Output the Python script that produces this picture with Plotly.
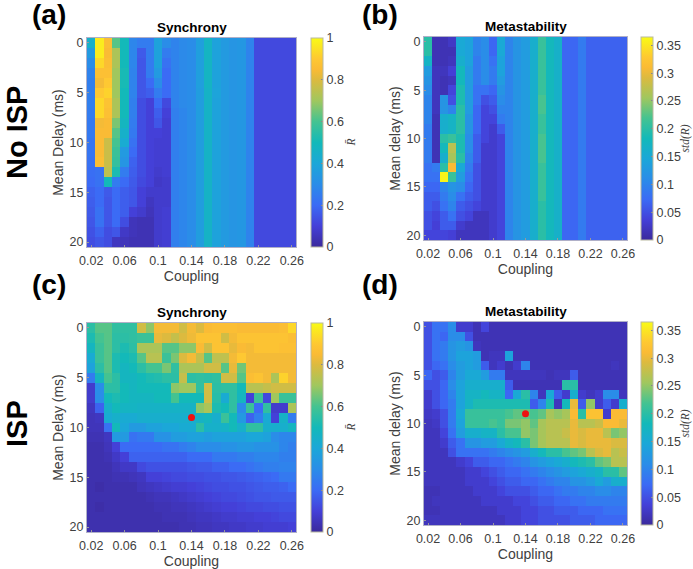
import numpy as np
import plotly.graph_objects as go

W, H = 693, 569
coupling = [round(0.02 + 0.01 * i, 2) for i in range(25)]
delay = list(range(21))
x_ticks = [0.02, 0.06, 0.1, 0.14, 0.18, 0.22, 0.26]
x_labels = ["0.02", "0.06", "0.1", "0.14", "0.18", "0.22", "0.26"]
y_ticks = [0, 5, 10, 15, 20]
sync_ticks = [0, 0.2, 0.4, 0.6, 0.8, 1]
sync_labels = ["0", "0.2", "0.4", "0.6", "0.8", "1"]
meta_ticks = [0, 0.05, 0.1, 0.15, 0.2, 0.25, 0.3, 0.35]
meta_labels = ["0", "0.05", "0.1", "0.15", "0.2", "0.25", "0.3", "0.35"]
operating_point = (0.14, 9)

# Panel (a): one list per coupling column, top to bottom (delay 0..20)
a_cols = [
 [.45,.35,.3,.27,.26,.26,.26,.25,.24,.24,.23,.23,.22,.21,.2,.18,.17,.16,.15,.14,.13],
 [.97,.97,.93,.87,.84,.9,.93,.93,.84,.85,.85,.85,.86,.22,.22,.2,.2,.22,.22,.18,.15],
 [.86,.85,.86,.87,.9,.92,.88,.87,.85,.85,.77,.77,.77,.75,.5,.16,.15,.15,.15,.13,.13],
 [.62,.72,.72,.7,.7,.7,.72,.72,.66,.62,.6,.58,.57,.52,.25,.2,.2,.2,.2,.15,.06],
 [.5,.5,.5,.51,.51,.5,.5,.5,.48,.45,.42,.35,.33,.25,.2,.17,.17,.17,.13,.07,.05],
 [.28,.28,.28,.27,.27,.27,.26,.26,.25,.24,.22,.2,.18,.17,.16,.15,.15,.1,.05,.05,.04],
 [.25,.16,.15,.15,.15,.15,.13,.13,.13,.13,.13,.13,.13,.13,.12,.1,.1,.08,.04,.04,.04],
 [.25,.25,.25,.25,.2,.17,.1,.1,.1,.1,.1,.1,.1,.1,.1,.08,.06,.05,.04,.04,.04],
 [.38,.38,.38,.35,.3,.25,.2,.17,.15,.1,.09,.09,.09,.08,.07,.08,.08,.08,.08,.08,.08],
 [.3,.25,.22,.2,.2,.2,.12,.1,.09,.09,.09,.09,.09,.09,.08,.08,.08,.09,.09,.09,.09],
 [.27,.27,.27,.27,.27,.27,.27,.26,.26,.26,.26,.26,.26,.26,.26,.26,.26,.26,.26,.26,.26],
 [.29,.29,.29,.29,.29,.29,.29,.28,.28,.28,.28,.28,.28,.28,.28,.28,.28,.28,.28,.28,.28],
 [.3,.3,.3,.3,.3,.3,.3,.3,.3,.3,.3,.3,.3,.3,.3,.3,.3,.3,.3,.3,.3],
 [.37,.37,.37,.37,.37,.36,.36,.36,.36,.36,.36,.36,.36,.36,.36,.36,.36,.36,.36,.36,.36],
 [.47,.47,.47,.47,.47,.46,.46,.46,.46,.46,.46,.46,.46,.46,.46,.46,.46,.46,.46,.46,.46],
 [.38,.38,.38,.38,.38,.39,.38,.38,.38,.38,.38,.38,.38,.38,.38,.38,.38,.38,.38,.38,.38],
 [.35,.35,.35,.35,.35,.35,.35,.35,.35,.35,.35,.35,.35,.35,.35,.35,.35,.35,.35,.35,.35],
 [.33,.33,.33,.33,.33,.33,.33,.33,.33,.33,.33,.33,.33,.33,.33,.33,.33,.33,.33,.33,.33],
 [.34,.34,.34,.34,.34,.34,.34,.34,.34,.34,.34,.34,.34,.34,.34,.34,.34,.34,.34,.34,.34],
 [.27,.27,.27,.27,.27,.27,.27,.27,.27,.27,.27,.27,.27,.27,.27,.27,.27,.27,.27,.27,.27],
 [.12,.12,.12,.12,.12,.12,.12,.12,.12,.12,.12,.12,.12,.12,.12,.12,.12,.12,.12,.12,.12],
 [.12,.12,.12,.12,.12,.12,.12,.12,.12,.12,.12,.12,.12,.12,.12,.12,.12,.12,.12,.12,.12],
 [.12,.12,.12,.12,.12,.12,.12,.12,.12,.12,.12,.12,.12,.12,.12,.12,.12,.12,.12,.12,.12],
 [.12,.12,.12,.12,.12,.12,.12,.12,.12,.12,.12,.12,.12,.12,.12,.12,.12,.12,.12,.12,.12],
 [.12,.12,.12,.12,.12,.12,.12,.12,.12,.12,.12,.12,.12,.12,.12,.12,.12,.12,.12,.12,.12],
]

# Panel (b): one list per coupling column
b_cols = [
 [.2,.2,.17,.13,.12,.11,.1,.1,.1,.09,.09,.09,.09,.08,.08,.07,.06,.06,.05,.05,.04],
 [.015,.015,.015,.02,.02,.02,.02,.02,.015,.015,.015,.015,.015,.09,.08,.07,.06,.05,.04,.035,.04],
 [.015,.015,.015,.02,.015,.015,.12,.12,.16,.16,.2,.18,.16,.2,.36,.1,.09,.08,.06,.06,.04],
 [.025,.015,.02,.035,.02,.04,.05,.1,.17,.17,.21,.27,.26,.31,.21,.12,.11,.1,.08,.06,.035],
 [.15,.15,.16,.18,.18,.19,.19,.2,.2,.2,.19,.19,.2,.15,.13,.11,.08,.06,.05,.03,.02],
 [.14,.14,.14,.13,.13,.13,.13,.13,.12,.12,.11,.11,.1,.09,.08,.07,.06,.05,.04,.02,.02],
 [.1,.1,.09,.09,.09,.08,.08,.07,.07,.07,.06,.06,.06,.05,.05,.05,.05,.04,.02,.02,.02],
 [.11,.11,.11,.11,.11,.08,.05,.04,.04,.04,.04,.03,.03,.03,.03,.03,.03,.03,.02,.02,.02],
 [.07,.07,.08,.09,.09,.07,.06,.05,.04,.03,.03,.03,.03,.03,.03,.03,.03,.03,.03,.03,.03],
 [.15,.15,.14,.14,.13,.12,.11,.1,.09,.06,.04,.04,.04,.04,.04,.04,.04,.04,.04,.04,.04],
 [.1,.1,.1,.1,.1,.1,.1,.1,.1,.1,.1,.1,.1,.1,.1,.1,.1,.1,.1,.1,.1],
 [.12,.12,.12,.12,.12,.12,.12,.12,.12,.12,.12,.12,.12,.12,.12,.12,.12,.12,.12,.12,.12],
 [.13,.13,.13,.13,.13,.13,.13,.13,.13,.13,.13,.13,.13,.13,.13,.13,.13,.13,.13,.13,.13],
 [.16,.16,.16,.16,.16,.16,.16,.16,.16,.16,.16,.16,.16,.16,.16,.16,.16,.16,.16,.16,.16],
 [.21,.21,.21,.21,.21,.21,.22,.22,.21,.21,.22,.22,.22,.21,.21,.21,.21,.2,.2,.2,.2],
 [.18,.18,.18,.18,.18,.18,.18,.18,.18,.18,.18,.18,.18,.18,.18,.18,.18,.18,.18,.18,.18],
 [.165,.165,.165,.165,.165,.165,.165,.165,.165,.165,.165,.165,.165,.165,.165,.165,.165,.165,.165,.165,.165],
 [.07,.07,.07,.07,.07,.07,.07,.07,.07,.07,.07,.07,.07,.07,.07,.07,.07,.07,.07,.07,.07],
 [.07,.07,.07,.07,.07,.07,.07,.07,.07,.07,.07,.07,.07,.07,.07,.07,.07,.07,.07,.07,.07],
 [.09,.09,.09,.09,.09,.09,.09,.09,.09,.09,.09,.09,.09,.09,.09,.09,.09,.09,.09,.09,.09],
 [.065,.065,.065,.065,.065,.065,.065,.065,.065,.065,.065,.065,.065,.065,.065,.065,.065,.065,.065,.065,.065],
 [.065,.065,.065,.065,.065,.065,.065,.065,.065,.065,.065,.065,.065,.065,.065,.065,.065,.065,.065,.065,.065],
 [.065,.065,.065,.065,.065,.065,.065,.065,.065,.065,.065,.065,.065,.065,.065,.065,.065,.065,.065,.065,.065],
 [.065,.065,.065,.065,.065,.065,.065,.065,.065,.065,.065,.065,.065,.065,.065,.065,.065,.065,.065,.065,.065],
 [.065,.065,.065,.065,.065,.065,.065,.065,.065,.065,.065,.065,.065,.065,.065,.065,.065,.065,.065,.065,.065],
]

# Panel (c): one list per delay row
c_rows = [
 [.55,.62,.62,.56,.56,.56,.78,.68,.84,.84,.84,.78,.84,.8,.85,.86,.86,.86,.85,.85,.85,.85,.85,.86,.93],
 [.52,.6,.62,.55,.55,.56,.58,.58,.82,.8,.76,.8,.83,.88,.88,.88,.78,.84,.88,.88,.88,.88,.88,.88,.86],
 [.48,.58,.62,.55,.52,.55,.72,.72,.72,.62,.62,.68,.68,.85,.78,.88,.88,.82,.85,.84,.88,.88,.88,.87,.87],
 [.42,.58,.62,.52,.5,.52,.62,.74,.74,.58,.66,.8,.84,.76,.62,.75,.75,.84,.9,.84,.84,.84,.84,.84,.84],
 [.38,.55,.62,.52,.48,.5,.55,.6,.6,.66,.56,.72,.72,.72,.78,.78,.62,.82,.65,.84,.84,.84,.84,.84,.84],
 [.25,.48,.6,.55,.48,.48,.5,.52,.53,.55,.55,.76,.55,.56,.55,.56,.78,.78,.62,.86,.88,.84,.72,.92,.84],
 [.08,.3,.55,.55,.5,.48,.5,.5,.5,.5,.68,.7,.7,.56,.78,.55,.56,.56,.5,.74,.74,.76,.78,.78,.78],
 [.08,.3,.5,.52,.5,.48,.48,.48,.5,.5,.6,.5,.5,.5,.78,.54,.42,.56,.48,.1,.58,.12,.7,.58,.58],
 [.06,.18,.45,.5,.47,.47,.46,.46,.46,.46,.46,.46,.46,.68,.72,.52,.5,.56,.3,.58,.2,.56,.08,.08,.72],
 [.05,.06,.42,.45,.42,.42,.44,.44,.44,.44,.44,.44,.44,.46,.48,.44,.58,.5,.35,.18,.26,.42,.1,.46,.25],
 [.05,.05,.22,.5,.4,.35,.35,.38,.38,.4,.4,.42,.42,.55,.45,.45,.46,.5,.45,.56,.56,.44,.44,.44,.48],
 [.04,.04,.06,.35,.35,.22,.24,.24,.32,.32,.36,.36,.38,.38,.36,.38,.38,.38,.38,.4,.4,.38,.3,.28,.28],
 [.03,.03,.05,.1,.2,.2,.2,.2,.2,.22,.22,.25,.27,.3,.3,.3,.32,.32,.34,.34,.32,.32,.32,.28,.26],
 [.03,.03,.04,.07,.1,.18,.18,.18,.18,.18,.18,.18,.2,.2,.2,.24,.24,.24,.26,.26,.28,.28,.28,.26,.26],
 [.03,.03,.03,.05,.07,.07,.12,.14,.14,.14,.14,.14,.15,.16,.16,.18,.18,.2,.2,.22,.24,.26,.26,.27,.27],
 [.03,.03,.03,.04,.04,.05,.06,.1,.1,.11,.12,.12,.13,.13,.14,.14,.15,.15,.16,.17,.18,.19,.2,.24,.24],
 [.03,.02,.03,.03,.03,.03,.05,.06,.07,.08,.09,.09,.1,.11,.12,.13,.13,.14,.14,.15,.16,.17,.17,.18,.2],
 [.03,.03,.03,.03,.03,.03,.03,.04,.05,.05,.06,.07,.08,.09,.1,.11,.12,.12,.13,.14,.15,.15,.16,.16,.16],
 [.03,.02,.03,.03,.03,.03,.03,.03,.04,.04,.05,.05,.06,.07,.08,.09,.1,.1,.11,.12,.12,.13,.13,.14,.14],
 [.03,.03,.03,.03,.03,.03,.03,.03,.03,.04,.04,.04,.05,.06,.06,.07,.08,.08,.09,.09,.1,.1,.11,.12,.12],
 [.03,.03,.03,.03,.03,.03,.03,.03,.03,.03,.03,.04,.04,.05,.05,.06,.06,.07,.07,.08,.08,.09,.09,.09,.1],
]

# Panel (d): one list per delay row
d_rows = [
 [.05,.08,.08,.11,.03,.03,.015,.04,.015,.015,.015,.015,.015,.015,.015,.015,.015,.015,.015,.015,.015,.015,.015,.015,.015],
 [.05,.08,.07,.11,.11,.05,.015,.015,.015,.015,.015,.015,.015,.015,.015,.015,.015,.015,.015,.015,.015,.015,.015,.015,.015],
 [.05,.08,.09,.12,.13,.12,.02,.015,.015,.015,.015,.015,.015,.015,.015,.015,.015,.015,.015,.015,.015,.015,.015,.015,.015],
 [.05,.08,.09,.12,.14,.14,.13,.015,.02,.02,.14,.015,.015,.015,.015,.015,.015,.015,.015,.015,.015,.015,.015,.015,.015],
 [.05,.07,.08,.11,.13,.14,.13,.06,.02,.03,.015,.03,.1,.015,.015,.015,.015,.015,.015,.015,.015,.015,.015,.02,.015],
 [.07,.05,.06,.1,.13,.15,.15,.13,.09,.09,.02,.02,.02,.02,.02,.015,.02,.02,.06,.015,.015,.015,.015,.015,.015],
 [.05,.05,.07,.11,.14,.16,.16,.16,.16,.16,.06,.015,.015,.015,.015,.015,.015,.2,.2,.015,.015,.015,.015,.015,.015],
 [.03,.05,.07,.1,.14,.17,.17,.18,.17,.17,.07,.15,.2,.1,.02,.15,.06,.03,.16,.03,.02,.03,.11,.11,.02],
 [.03,.05,.07,.09,.14,.17,.19,.19,.19,.19,.19,.19,.19,.06,.1,.19,.02,.18,.3,.06,.25,.03,.06,.03,.16],
 [.025,.03,.05,.09,.15,.21,.21,.21,.21,.21,.22,.23,.23,.22,.23,.26,.25,.26,.31,.2,.32,.32,.03,.31,.31],
 [.02,.025,.05,.09,.14,.21,.21,.21,.22,.21,.24,.24,.25,.23,.26,.27,.27,.27,.3,.27,.27,.28,.31,.31,.3],
 [.02,.02,.04,.08,.13,.16,.16,.17,.17,.2,.22,.22,.25,.24,.26,.27,.27,.28,.3,.29,.3,.3,.27,.24,.25],
 [.02,.02,.03,.06,.08,.12,.12,.13,.13,.15,.17,.18,.2,.24,.26,.27,.27,.27,.3,.29,.3,.3,.3,.29,.29],
 [.02,.02,.02,.05,.08,.08,.08,.08,.09,.1,.11,.12,.13,.16,.18,.2,.2,.22,.23,.24,.27,.29,.3,.27,.28],
 [.02,.02,.02,.02,.03,.04,.06,.06,.07,.07,.08,.09,.1,.12,.13,.14,.15,.16,.18,.19,.2,.23,.24,.27,.27],
 [.02,.02,.02,.02,.02,.03,.03,.04,.05,.06,.07,.07,.08,.09,.1,.11,.12,.13,.14,.15,.16,.17,.2,.2,.23],
 [.02,.02,.02,.02,.02,.03,.03,.03,.04,.05,.06,.06,.07,.07,.08,.09,.1,.1,.12,.12,.13,.15,.13,.16,.16],
 [.015,.015,.02,.02,.02,.02,.03,.03,.03,.04,.05,.05,.05,.06,.07,.07,.08,.09,.09,.1,.1,.11,.11,.1,.1],
 [.015,.02,.02,.02,.02,.02,.02,.03,.03,.03,.03,.04,.04,.05,.06,.06,.07,.07,.08,.08,.09,.09,.09,.09,.09],
 [.015,.015,.02,.02,.02,.02,.02,.02,.02,.03,.03,.03,.04,.04,.05,.05,.06,.06,.06,.07,.07,.07,.08,.08,.08],
 [.02,.02,.02,.02,.02,.02,.02,.02,.02,.02,.03,.03,.04,.04,.05,.05,.05,.05,.06,.06,.06,.07,.07,.07,.07],
]

a_z = np.array(a_cols).T.tolist()
b_z = np.array(b_cols).T.tolist()

parula = [
 [0.0, "#3b2a9c"], [0.1, "#4440d8"], [0.2, "#3b6bf5"], [0.3, "#2a8de8"], [0.4, "#1ba7d8"],
 [0.5, "#13b9b9"], [0.6, "#44c391"], [0.7, "#a0c75e"], [0.8, "#dcba3f"], [0.85, "#fabb35"], [0.9, "#fec832"], [1.0, "#f9fb15"],
]
FONT = "Liberation Sans"
GRAY = "#404040"
panels = [
 dict(z=a_z, zmax=1.0, box=(87, 296, 38, 247), cb=311, title="Synchrony", ylab="Mean Delay (ms)", ct=sync_ticks, cl=sync_labels, point=False, tag="(a)", tagxy=(32, 14), cbt="R\u0304", cbtx=350),
 dict(z=b_z, zmax=0.365, box=(424, 627, 37, 240), cb=641, title="Metastability", ylab="Mean delay (ms)", ct=meta_ticks, cl=meta_labels, point=False, tag="(b)", tagxy=(362, 14), cbt="std(R)", cbtx=685),
 dict(z=c_rows, zmax=1.0, box=(87, 296, 323, 532), cb=311, title="Synchrony", ylab="Mean Delay (ms)", ct=sync_ticks, cl=sync_labels, point=True, tag="(c)", tagxy=(32, 284), cbt="R\u0304", cbtx=350),
 dict(z=d_rows, zmax=0.365, box=(424, 627, 322, 525), cb=641, title="Metastability", ylab="Mean delay (ms)", ct=meta_ticks, cl=meta_labels, point=True, tag="(d)", tagxy=(362, 284), cbt="std(R)", cbtx=685),
]

fig = go.Figure()
annotations = []
for i, p in enumerate(panels):
    n = "" if i == 0 else str(i + 1)
    x0, x1, y0, y1 = p["box"]
    fig.add_trace(go.Heatmap(
        z=p["z"], x=coupling, y=delay, zmin=0, zmax=p["zmax"], colorscale=parula,
        xaxis="x" + n, yaxis="y" + n, xgap=0, ygap=0,
        colorbar=dict(
            x=p["cb"] / W, xanchor="left", xref="paper", y=1 - y1 / H, yanchor="bottom", yref="paper",
            len=(y1 - y0) / H, lenmode="fraction", thickness=12, thicknessmode="pixels", xpad=0, ypad=0,
            tickvals=p["ct"], ticktext=p["cl"], ticks="inside", ticklen=2, tickcolor="#888888",
            tickfont=dict(family=FONT, size=12.5, color=GRAY), outlinecolor="#b9b9a0", outlinewidth=1,
        ),
    ))
    if p["point"]:
        fig.add_trace(go.Scatter(
            x=[operating_point[0]], y=[operating_point[1]], mode="markers", showlegend=False,
            xaxis="x" + n, yaxis="y" + n, marker=dict(color="#ee1111", size=7),
        ))
    fig.update_layout(**{
        "xaxis" + n: dict(
            domain=[x0 / W, x1 / W], range=[0.015, 0.265], anchor="y" + n, tickvals=x_ticks, ticktext=x_labels,
            ticks="inside", ticklen=2, tickcolor="#999999", showgrid=False, zeroline=False, showline=True,
            linecolor="#b0b0c8", mirror=True, tickfont=dict(family=FONT, size=12.5, color=GRAY), ticklabelstandoff=2,
            title=dict(text="Coupling", font=dict(family=FONT, size=14, color=GRAY), standoff=3),
        ),
        "yaxis" + n: dict(
            domain=[1 - y1 / H, 1 - y0 / H], range=[20.5, -0.5], anchor="x" + n, tickvals=y_ticks,
            ticks="inside", ticklen=2, tickcolor="#999999", showgrid=False, zeroline=False, showline=True,
            linecolor="#b0b0c8", mirror=True, tickfont=dict(family=FONT, size=12.5, color=GRAY),
            title=dict(text=p["ylab"], font=dict(family=FONT, size=14, color=GRAY), standoff=2),
        ),
    })
    annotations.append(dict(text="<b>%s</b>" % p["title"], x=(x0 + x1) / 2 / W, y=1 - (y0 - 10.5) / H, xref="paper", yref="paper",
                            showarrow=False, font=dict(family=FONT, size=13.5, color="black"), xanchor="center", yanchor="middle"))
    annotations.append(dict(text="<b>%s</b>" % p["tag"], x=p["tagxy"][0] / W, y=1 - p["tagxy"][1] / H, xref="paper", yref="paper",
                            showarrow=False, font=dict(family=FONT, size=28, color="black"), xanchor="left", yanchor="middle", borderpad=0, borderwidth=0))
    annotations.append(dict(text="<i>%s</i>" % p["cbt"], x=p["cbtx"] / W, y=1 - (y0 + y1) / 2 / H, xref="paper", yref="paper", textangle=-90,
                            showarrow=False, font=dict(family="Liberation Serif", size=11.5, color=GRAY), xanchor="center", yanchor="middle"))
for text, yc in (("No ISP", 133), ("ISP", 424)):
    annotations.append(dict(text="<b>%s</b>" % text, x=17 / W, y=1 - yc / H, xref="paper", yref="paper", textangle=-90,
                            showarrow=False, font=dict(family=FONT, size=29, color="black"), xanchor="center", yanchor="middle"))

fig.update_layout(width=W, height=H, margin=dict(l=0, r=0, t=0, b=0, autoexpand=False), paper_bgcolor="white", plot_bgcolor="white",
                  showlegend=False, annotations=annotations)
fig.write_html("out.html", post_script="document.body.style.margin='0';", config=dict(displayModeBar=False))
